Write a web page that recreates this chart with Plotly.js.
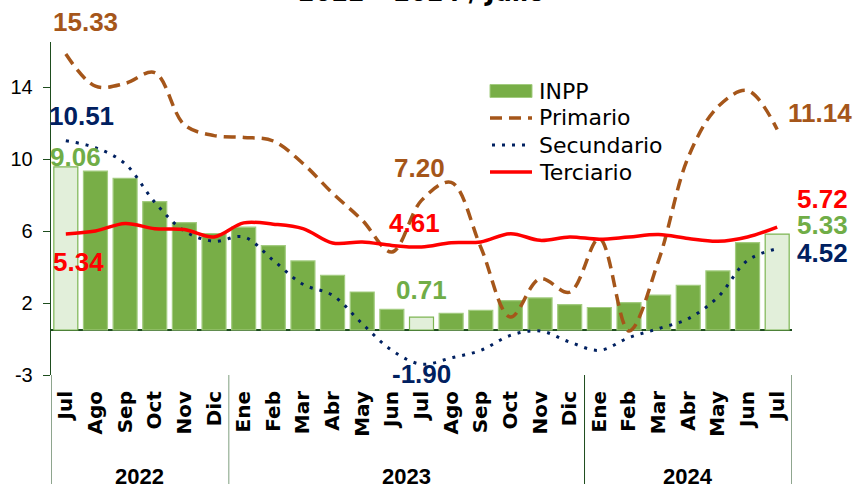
<!DOCTYPE html>
<html>
<head>
<meta charset="utf-8">
<script src="https://cdn.plot.ly/plotly-3.0.1.min.js"></script>
<style>
html,body{margin:0;padding:0;background:#fff;}
#chart{width:866px;height:484px;}
</style>
</head>
<body>
<div id="chart"></div>
<script>
// ---- data ----
const months = ['Jul','Ago','Sep','Oct','Nov','Dic','Ene','Feb','Mar','Abr','May','Jun','Jul','Ago','Sep','Oct','Nov','Dic','Ene','Feb','Mar','Abr','May','Jun','Jul'];
const yearLabels = ['2022','2023','2024'];
const yearCounts = [6, 12, 7];
const seriesNames = ['INPP', 'Primario', 'Secundario', 'Terciario'];
const inpp = [9.06, 8.83, 8.43, 7.13, 5.97, 5.36, 5.71, 4.69, 3.84, 3.04, 2.11, 1.15, 0.71, 0.93, 1.09, 1.63, 1.78, 1.41, 1.25, 1.52, 1.94, 2.48, 3.28, 4.85, 5.33];
const primario = [15.33, 13.55, 13.7, 14.3, 11.4, 10.8, 10.7, 10.5, 9.25, 7.6, 6.1, 4.33, 7.20, 8.2, 4.6, 0.72, 2.85, 2.1, 5.08, -0.05, 3.87, 9.6, 12.4, 13.3, 11.14];
const secundario = [10.51, 10.13, 9.24, 7.1, 5.5, 4.93, 5.17, 3.87, 2.54, 1.93, 0.35, -1.13, -1.90, -1.55, -1.13, -0.3, -0.05, -0.67, -1.13, -0.42, 0.08, 0.63, 1.83, 3.87, 4.52];
const terciario = [5.34, 5.5, 5.92, 5.63, 5.58, 5.17, 5.95, 5.88, 5.63, 4.83, 4.89, 4.7, 4.61, 4.85, 4.89, 5.35, 4.98, 5.17, 5.04, 5.17, 5.3, 5.08, 4.93, 5.17, 5.72];
const highlight = [0, 12, 24]; // highlighted months (labelled)
const yTickVals = [-2.5, 1.5, 5.5, 9.5, 13.5];
const yTickText = ['-3', '2', '6', '10', '14'];

// ---- styles ----
const cGreen = '#78AE47', cGreenLight = '#E2EFDA', cGreenLab = '#70AD47';
const cBrown = '#A5561A', cNavy = '#002060', cRed = '#FF0000', cAxis = '#1E4D1E';
const dashBrown = '12px,7px', dotNavy = '3px,7px';
const idx = months.map((m, i) => i);

const M = {l: 51, r: 74, t: 42, b: 109}, W = 866, H = 484;
const PW = W - M.l - M.r, PH = H - M.t - M.b;
const px2x = p => (p - M.l) / PW;
const px2y = p => (H - M.b - p) / PH;

const barFill = idx.map(i => highlight.includes(i) ? cGreenLight : cGreen);
const barLine = idx.map(i => highlight.includes(i) ? '#7DB553' : '#A3CC80');

const traces = [
  {type:'bar', name: seriesNames[0], x: idx, y: inpp,
   marker:{color: barFill, line:{color: barLine, width: 1.2}}},
  {type:'scatter', mode:'lines', name: seriesNames[1], x: idx, y: primario,
   line:{color: cBrown, width: 3.5, dash: dashBrown, shape:'spline', smoothing: 1}},
  {type:'scatter', mode:'lines', name: seriesNames[2], x: idx, y: secundario,
   line:{color: cNavy, width: 3, dash: dotNavy, shape:'spline', smoothing: 1}},
  {type:'scatter', mode:'lines', name: seriesNames[3], x: idx, y: terciario,
   line:{color: cRed, width: 3.5, shape:'spline', smoothing: 1}}
];

function lab(series, i, color, dx, dy) {
  return {xref:'x', yref:'y', x: i, y: series[i], text: series[i].toFixed(2),
          showarrow:false, xanchor:'center', yanchor:'middle', xshift: dx, yshift: dy,
          font:{family:'Liberation Sans, Arial, sans-serif', size: 26, color: color, weight:'bold'}};
}
const annotations = [
  lab(primario, 0, cBrown, 20, 32),
  lab(secundario, 0, cNavy, 16, 25),
  lab(inpp, 0, cGreenLab, 10, 10),
  lab(terciario, 0, cRed, 13, -28),
  lab(primario, 12, cBrown, -2, 32),
  lab(terciario, 12, cRed, -7, 24),
  lab(inpp, 12, cGreenLab, 0, 27),
  lab(secundario, 12, cNavy, 0, -10),
  lab(primario, 24, cBrown, 43, 16),
  lab(terciario, 24, cRed, 45, 28),
  lab(inpp, 24, cGreenLab, 45, 9),
  lab(secundario, 24, cNavy, 45, -4)
];

// year group labels + separators
const shapes = [];
let start = 0;
yearLabels.forEach((yl, k) => {
  const n = yearCounts[k];
  annotations.push({xref:'x', yref:'paper', x: start + (n - 1) / 2, y: px2y(476), text: yl,
    showarrow:false, xanchor:'center', yanchor:'middle',
    font:{family:'Liberation Sans, Arial, sans-serif', size: 22, color:'#000', weight:'bold'}});
  shapes.push({type:'line', xref:'x', yref:'paper', x0: start - 0.5, x1: start - 0.5, y0: 0, y1: px2y(H),
    line:{color: k === 1 ? '#7F9F7F' : cAxis, width: 1}});
  start += n;
});
shapes.push({type:'line', xref:'x', yref:'paper', x0: start - 0.5, x1: start - 0.5, y0: 0, y1: px2y(H),
  line:{color: cAxis, width: 1}});

// legend (drawn manually to match the reference's layout)
const legRows = [91, 118, 145, 172];
const legX0 = 490, legX1 = 532, legTextX = 537;
shapes.push({type:'rect', xref:'paper', yref:'paper', x0: px2x(legX0), x1: px2x(legX1),
  y0: px2y(legRows[0] + 6.5), y1: px2y(legRows[0] - 6.5), fillcolor: cGreen, line:{color:'#A3CC80', width: 1}});
shapes.push({type:'line', xref:'paper', yref:'paper', x0: px2x(legX0), x1: px2x(legX1),
  y0: px2y(legRows[1]), y1: px2y(legRows[1]), line:{color: cBrown, width: 3.5, dash: dashBrown}});
shapes.push({type:'line', xref:'paper', yref:'paper', x0: px2x(legX0 + 2), x1: px2x(legX1),
  y0: px2y(legRows[2]), y1: px2y(legRows[2]), line:{color: cNavy, width: 3, dash: dotNavy}});
shapes.push({type:'line', xref:'paper', yref:'paper', x0: px2x(legX0), x1: px2x(legX1),
  y0: px2y(legRows[3]), y1: px2y(legRows[3]), line:{color: cRed, width: 3.5}});
seriesNames.forEach((nm, k) => {
  annotations.push({xref:'paper', yref:'paper', x: px2x(legTextX), y: px2y(legRows[k]), text: nm,
    showarrow:false, xanchor:'left', yanchor:'middle',
    font:{family:'DejaVu Sans, sans-serif', size: 22, color:'#000'}});
});

// title (partially visible at top)
annotations.push({xref:'paper', yref:'paper', x: 0.5, y: 1.0, yshift: 33, text:'2022 – 2024 / Julio',
  showarrow:false, xanchor:'center', yanchor:'bottom',
  font:{family:'DejaVu Sans, sans-serif', size: 24, color:'#000', weight:'bold'}});

const layout = {
  width: W, height: H,
  margin: M,
  paper_bgcolor:'#fff', plot_bgcolor:'#fff',
  bargap: 0.19,
  showlegend: false,
  xaxis:{range:[-0.5, 24.5], tickvals: idx, ticktext: months, tickangle: -90,
    showgrid:false, zeroline:false, showline:false, ticks:'', ticklabelstandoff: 11,
    tickfont:{family:'DejaVu Sans, sans-serif', size: 20, color:'#000', weight:'bold'}},
  yaxis:{range:[-2.5, 16], tickvals: yTickVals, ticktext: yTickText,
    showgrid:false, zeroline:true, zerolinecolor: cAxis, zerolinewidth: 1.5,
    showline:true, linecolor: cAxis, linewidth: 1.3, ticks:'outside', ticklen: 7, tickcolor: cAxis,
    ticklabelstandoff: 6,
    tickfont:{family:'Liberation Sans, Arial, sans-serif', size: 20, color:'#000'}},
  annotations: annotations,
  shapes: shapes
};

Plotly.newPlot('chart', traces, layout, {staticPlot: true, displayModeBar: false});
</script>
</body>
</html>
